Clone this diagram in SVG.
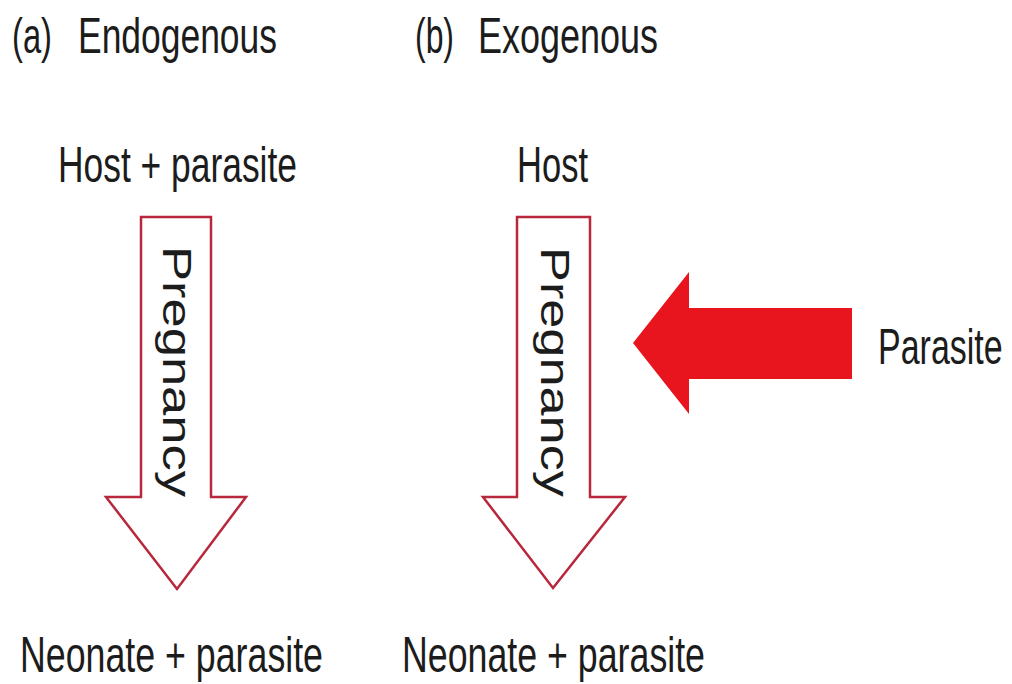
<svg xmlns="http://www.w3.org/2000/svg" width="1012" height="684" viewBox="0 0 1012 684">
  <style>
    .lbl { font-family: "Liberation Sans", Arial, Helvetica, sans-serif; font-size: 50px; fill: #1c1c1c; }
    .hollow { fill: #ffffff; stroke: #b8283c; stroke-width: 2.5; stroke-linejoin: miter; }
    .solid { fill: #e8141e; stroke: none; }
  </style>
  <rect x="0" y="0" width="1012" height="684" fill="#ffffff"/>

  <!-- panel headings -->
  <g id="title-a">
    <text class="lbl" x="12" y="53" textLength="40" lengthAdjust="spacingAndGlyphs">(a)</text>
    <text class="lbl" x="78" y="53" textLength="199" lengthAdjust="spacingAndGlyphs">Endogenous</text>
  </g>
  <g id="title-b">
    <text class="lbl" x="415" y="53" textLength="39" lengthAdjust="spacingAndGlyphs">(b)</text>
    <text class="lbl" x="478" y="53" textLength="180" lengthAdjust="spacingAndGlyphs">Exogenous</text>
  </g>

  <!-- start states -->
  <g id="host-parasite"><text class="lbl" x="58" y="182" textLength="239" lengthAdjust="spacingAndGlyphs">Host + parasite</text></g>
  <g id="host"><text class="lbl" x="517" y="182" textLength="71" lengthAdjust="spacingAndGlyphs">Host</text></g>

  <!-- end states -->
  <g id="neonate-a"><text class="lbl" x="20" y="672" textLength="303" lengthAdjust="spacingAndGlyphs">Neonate + parasite</text></g>
  <g id="neonate-b"><text class="lbl" x="402" y="672" textLength="303" lengthAdjust="spacingAndGlyphs">Neonate + parasite</text></g>

  <!-- external source: condensed by a horizontal scale -->
  <g id="parasite"><text class="lbl" transform="translate(878,364) scale(0.68,1)" x="0" y="0">Parasite</text></g>

  <g id="connectors">
    <!-- endogenous pregnancy arrow -->
    <g id="pregnancy-a">
      <polygon class="hollow" points="141,217 211,217 211,497 246,497 177,589 106,497 141,497"/>
      <text class="lbl" transform="translate(163,246) rotate(90) scale(1,0.8)" x="0" y="0" textLength="251" lengthAdjust="spacingAndGlyphs">Pregnancy</text>
    </g>
    <!-- exogenous pregnancy arrow -->
    <g id="pregnancy-b">
      <polygon class="hollow" points="517,217 590,217 590,497 625,497 553,588 483,497 517,497"/>
      <text class="lbl" transform="translate(541,247) rotate(90) scale(1,0.8)" x="0" y="0" textLength="250" lengthAdjust="spacingAndGlyphs">Pregnancy</text>
    </g>
    <!-- parasite entering from outside -->
    <g id="parasite-arrow">
      <polygon class="solid" points="852,308 852,379 689,379 689,414 633,343 689,272 689,308"/>
    </g>
  </g>
</svg>
